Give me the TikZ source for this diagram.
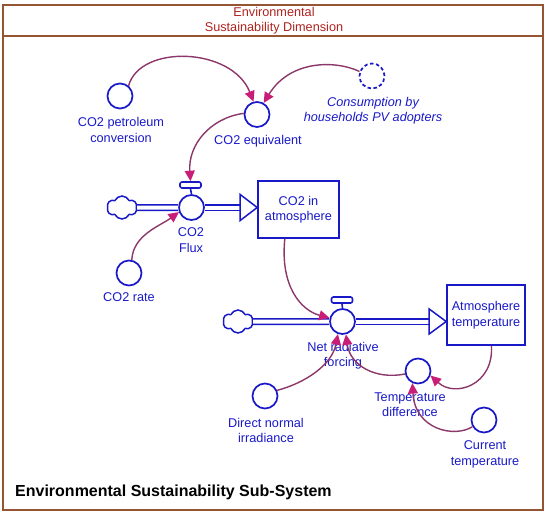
\documentclass[tikz,border=0pt]{standalone}
\usepackage{fontspec}
\setmainfont{Liberation Sans}
\usetikzlibrary{shapes.symbols,arrows.meta,calc}
\definecolor{sdblue}{RGB}{25,25,200}
\definecolor{linkc}{RGB}{140,55,105}
\definecolor{tipc}{RGB}{200,30,120}
\definecolor{framec}{RGB}{150,85,50}
\definecolor{headc}{RGB}{175,35,30}
\begin{document}
\begin{tikzpicture}[x=1pt,y=-1pt,
  aux/.style={circle,draw=sdblue,line width=1.7pt,fill=white,minimum size=25pt,inner sep=0pt},
  ghost/.style={aux,dashed,dash pattern=on 3.5pt off 2.5pt},
  valvebody/.style={aux},
  valvetop/.style={draw=sdblue,line width=1.6pt,fill=white,rectangle,rounded corners=2pt,minimum width=21pt,minimum height=6pt,inner sep=0pt},
  stock/.style={draw=sdblue,line width=1.6pt,fill=white,align=center,inner sep=0pt,text=sdblue,font=\fontsize{12.7}{15.5}\selectfont},
  cloudsrc/.style={cloud,cloud puffs=6,cloud puff arc=130,aspect=1.3,minimum width=30pt,minimum height=23pt,inner sep=0pt,draw=sdblue,line width=1.5pt,fill=white},
  lbl/.style={text=sdblue,align=center,inner sep=0pt,font=\fontsize{12.7}{15.5}\selectfont},
  pipe/.style={draw=sdblue,line width=1.5pt,double=white,double distance=4pt},
  flowhead/.style={draw=sdblue,line width=1.5pt,fill=white,line join=miter},
  link/.style={draw=linkc,line width=1.4pt,-{Triangle[length=10.5pt,width=10pt,color=tipc]}},
  stem/.style={draw=sdblue,line width=1.6pt}]
\useasboundingbox (0,0) rectangle (550,515);
% frame
\draw[framec,line width=1.6pt] (3,5) rectangle (543,510);
\draw[framec,line width=1.6pt] (3,36) -- (543,36);
\node[text=headc,align=center,inner sep=0pt,font=\fontsize{12.7}{15.5}\selectfont] (head) at (274,20.5) {Environmental\\Sustainability Dimension};
\node[anchor=west,inner sep=0pt,font=\fontsize{16}{19}\selectfont\bfseries] (title) at (15,492) {Environmental Sustainability Sub-System};

% auxiliaries
\node[aux] (petro) at (120,96) {};
\node[lbl] (petrol) at (121,130) {CO2 petroleum\\conversion};
\node[aux] (equiv) at (257,114.5) {};
\node[lbl] (equivl) at (258,141) {CO2 equivalent};
\node[ghost] (cons) at (372,76) {};
\node[lbl,font=\fontsize{12.7}{15.5}\selectfont\itshape] (consl) at (373,110.5) {Consumption by\\households PV adopters};
\node[aux] (rate) at (129,273) {};
\node[lbl] (ratel) at (129,297) {CO2 rate};
\node[aux] (tdiff) at (418,371) {};
\node[lbl] (tdiffl) at (410,404.5) {Temperature\\difference};
\node[aux] (direct) at (265,396) {};
\node[lbl] (directl) at (266,430.5) {Direct normal\\irradiance};
\node[aux] (curtemp) at (484,420) {};
\node[lbl] (curtempl) at (485,454.5) {Current\\temperature};

% stocks
\node[stock,minimum width=81pt,minimum height=57pt] (stock1) at (298.5,209.5) {CO2 in\\atmosphere};
\node[stock,minimum width=78pt,minimum height=60pt] (stock2) at (486,315) {Atmosphere\\temperature};

% flow 1
\node[cloudsrc] (cloud1) at (122,207.5) {};
\node[valvebody] (valve1) at (191.5,207.5) {};
\node[valvetop] (h1) at (190.5,185) {};
\draw[stem] (h1.south) -- (valve1.north);
\node[lbl] (valve1l) at (191,240) {CO2\\Flux};
\coordinate (a1) at ($(stock1.west)+(-17,-2)$);
\draw[pipe] (cloud1.east) -- (valve1.west);
\draw[pipe] (valve1.east) -- (a1);
\draw[flowhead] ($(a1)+(0,-13)$) -- ($(stock1.west)+(0,-2)$) -- ($(a1)+(0,13)$) -- cycle;

% flow 2
\node[cloudsrc] (cloud2) at (238,321.5) {};
\node[valvebody] (valve2) at (342.5,321.5) {};
\node[valvetop] (h2) at (342,300) {};
\draw[stem] (h2.south) -- (valve2.north);
\node[lbl] (valve2l) at (343,355.5) {Net radiative\\forcing};
\coordinate (a2) at ($(stock2.west)+(-17,6.5)$);
\draw[pipe] (cloud2.east) -- (valve2.west);
\draw[pipe] (valve2.east) -- (a2);
\draw[flowhead] ($(a2)+(0,-12.5)$) -- ($(stock2.west)+(0,6.5)$) -- ($(a2)+(0,12.5)$) -- cycle;

% links
\draw[link] (petro.50) .. controls (140,44) and (232,47) .. (equiv.105);
\draw[link] (cons.160) .. controls (335,60) and (290,60) .. (equiv.60);
\draw[link] (equiv.175) .. controls (210,118) and (188,145) .. (h1.north);
\draw[link] (rate.78) .. controls (133,235) and (160,226) .. (valve1.200);
\draw[link] (stock1.245) .. controls (280,285) and (300,310) .. (valve2.165);
\draw[link] (direct.25) .. controls (305,383) and (332,365) .. (valve2.250);
\draw[link] (tdiff.193) .. controls (375,380) and (350,365) .. (valve2.285);
\draw[link] (stock2.280) .. controls (494,385) and (455,398) .. (tdiff.340);
\draw[link] (curtemp.210) .. controls (455,438) and (415,430) .. (tdiff.245);
\end{tikzpicture}
\end{document}
